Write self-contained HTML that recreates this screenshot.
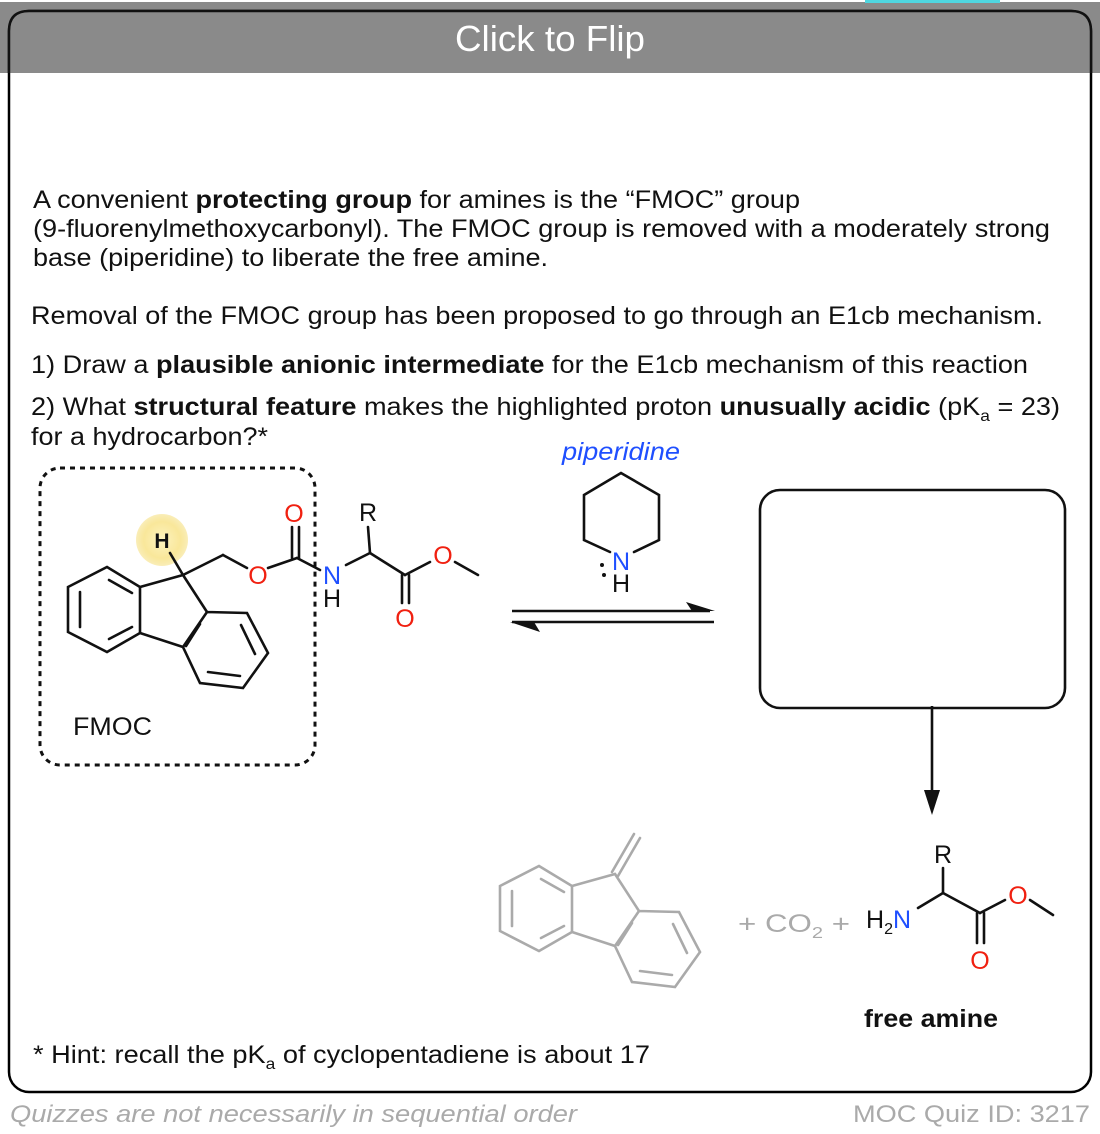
<!DOCTYPE html>
<html><head><meta charset="utf-8"><style>
html,body{margin:0;padding:0;background:#fff;}
svg{display:block;}
text{font-family:"Liberation Sans",Arial,sans-serif;}
</style></head><body>
<svg width="1100" height="1134" viewBox="0 0 1100 1134" xmlns="http://www.w3.org/2000/svg">
<defs>
<radialGradient id="hg"><stop offset="0" stop-color="#fdf3c0"/><stop offset="0.7" stop-color="#f9e79a"/><stop offset="1" stop-color="#f6e28a" stop-opacity="0.6"/></radialGradient>
</defs>
<rect x="0" y="0" width="1100" height="1134" fill="#fff"/>
<rect x="0" y="2" width="1100" height="71" fill="#8a8a8a"/>
<rect x="865" y="0" width="135" height="3" fill="#4fd6e0"/>
<rect x="9" y="11" width="1082" height="1081" rx="20" fill="none" stroke="#000" stroke-width="2.5"/>
<rect x="10" y="12" width="1080" height="61" fill="#8a8a8a"/>
<path d="M9 73 V31 Q9 11 29 11 H1071 Q1091 11 1091 31 V73" fill="none" stroke="#111" stroke-width="2.5"/>
<text x="455" y="51" font-size="36" fill="#fff" textLength="190" lengthAdjust="spacingAndGlyphs">Click to Flip</text>

<g font-size="25" fill="#111">
<text x="33" y="208" textLength="767" lengthAdjust="spacingAndGlyphs">A convenient <tspan font-weight="bold">protecting group</tspan> for amines is the “FMOC” group</text>
<text x="33" y="237" textLength="1017" lengthAdjust="spacingAndGlyphs">(9-fluorenylmethoxycarbonyl). The FMOC group is removed with a moderately strong</text>
<text x="33" y="266" textLength="515" lengthAdjust="spacingAndGlyphs">base (piperidine) to liberate the free amine.</text>
<text x="31" y="324" textLength="1012" lengthAdjust="spacingAndGlyphs">Removal of the FMOC group has been proposed to go through an E1cb mechanism.</text>
<text x="31" y="373" textLength="997" lengthAdjust="spacingAndGlyphs">1) Draw a <tspan font-weight="bold">plausible anionic intermediate</tspan> for the E1cb mechanism of this reaction</text>
<text x="31" y="415" textLength="1029" lengthAdjust="spacingAndGlyphs">2) What <tspan font-weight="bold">structural feature</tspan> makes the highlighted proton <tspan font-weight="bold">unusually acidic</tspan> (pK<tspan font-size="16" dy="6">a</tspan><tspan dy="-6"> = 23)</tspan></text>
<text x="31" y="445" textLength="237" lengthAdjust="spacingAndGlyphs">for a hydrocarbon?*</text>
<text x="33" y="1063" textLength="617" lengthAdjust="spacingAndGlyphs">* Hint: recall the pK<tspan font-size="16" dy="6">a</tspan><tspan dy="-6"> of cyclopentadiene is about 17</tspan></text>
</g>
<text x="562" y="460" font-size="25" font-style="italic" fill="#1f4fff" textLength="118" lengthAdjust="spacingAndGlyphs">piperidine</text>

<rect x="40" y="468" width="275" height="297" rx="20" fill="none" stroke="#111" stroke-width="3" stroke-dasharray="5,5"/>
<text x="73" y="735" font-size="25" fill="#111" textLength="79" lengthAdjust="spacingAndGlyphs">FMOC</text>

<circle cx="162" cy="540" r="26" fill="url(#hg)"/>
<g stroke="#111" stroke-width="2.6" fill="none" stroke-linecap="round">
<polyline points="140,587 140,633 107,652 68,632 68,587 107,567 140,587"/>
<line x1="80" y1="592" x2="80" y2="627"/>
<line x1="109" y1="580" x2="132" y2="593"/>
<line x1="109" y1="639" x2="132" y2="627"/>
<polyline points="207,612 183,647 200,683 243,688 268,653 247,613 207,612"/>
<line x1="200" y1="624" x2="186" y2="646"/>
<line x1="208" y1="672" x2="240" y2="676"/>
<line x1="255" y1="654" x2="241" y2="625"/>
<line x1="140" y1="587" x2="183" y2="575"/>
<line x1="183" y1="575" x2="207" y2="612"/>
<line x1="140" y1="633" x2="183" y2="647"/>
<line x1="183" y1="575" x2="170" y2="553"/>
<line x1="183" y1="575" x2="223" y2="555"/>
<line x1="223" y1="555" x2="247" y2="568"/>
<line x1="268" y1="568" x2="297" y2="558"/>
<line x1="297" y1="558" x2="320" y2="570"/>
<line x1="292" y1="558" x2="292" y2="527"/>
<line x1="299" y1="558" x2="299" y2="527"/>
<line x1="346" y1="565" x2="370" y2="553"/>
<line x1="370" y1="553" x2="368" y2="527"/>
<line x1="370" y1="553" x2="405" y2="575"/>
<line x1="402" y1="575" x2="402" y2="603"/>
<line x1="409" y1="575" x2="409" y2="603"/>
<line x1="405" y1="575" x2="430" y2="562"/>
<line x1="455" y1="562" x2="478" y2="575"/>
</g>
<g font-size="25" text-anchor="middle">
<text x="162" y="548" font-weight="bold" font-size="21" fill="#111">H</text>
<text x="258" y="584" fill="#f02010">O</text>
<text x="294" y="522" fill="#f02010">O</text>
<text x="332" y="584" fill="#1f4fff">N</text>
<text x="332" y="607" fill="#111">H</text>
<text x="368" y="521" fill="#111">R</text>
<text x="405" y="627" fill="#f02010">O</text>
<text x="443" y="564" fill="#f02010">O</text>
</g>

<g stroke="#111" stroke-width="2.6" fill="none" stroke-linecap="round">
<polyline points="610,552 584,540 584,495 621,473 659,495 659,540 634,552"/>
</g>
<text x="621" y="570" font-size="25" fill="#1f4fff" text-anchor="middle">N</text>
<text x="621" y="592" font-size="25" fill="#111" text-anchor="middle">H</text>
<circle cx="602" cy="565" r="2" fill="#111"/>
<circle cx="604" cy="575" r="2" fill="#111"/>

<g stroke="#111" stroke-width="2.6" fill="#111">
<line x1="512" y1="611" x2="710" y2="611"/>
<line x1="512" y1="622" x2="714" y2="622"/>
</g>
<polygon points="715,611 686,602 692,611" fill="#111"/>
<polygon points="510,622 540,632 534,622" fill="#111"/>

<rect x="760" y="490" width="305" height="218" rx="20" fill="none" stroke="#111" stroke-width="2.6"/>

<line x1="932" y1="706" x2="932" y2="795" stroke="#111" stroke-width="2.6"/>
<polygon points="924,790 940,790 932,815" fill="#111"/>

<g stroke="#aaa" stroke-width="2.6" fill="none" stroke-linecap="round" transform="translate(432,299)">
<polyline points="140,587 140,633 107,652 68,632 68,587 107,567 140,587"/>
<line x1="80" y1="592" x2="80" y2="627"/>
<line x1="109" y1="580" x2="132" y2="593"/>
<line x1="109" y1="639" x2="132" y2="627"/>
<polyline points="207,612 183,647 200,683 243,688 268,653 247,613 207,612"/>
<line x1="200" y1="624" x2="186" y2="646"/>
<line x1="208" y1="672" x2="240" y2="676"/>
<line x1="255" y1="654" x2="241" y2="625"/>
<line x1="140" y1="587" x2="183" y2="575"/>
<line x1="183" y1="575" x2="207" y2="612"/>
<line x1="140" y1="633" x2="183" y2="647"/>
<line x1="180" y1="573" x2="202" y2="535"/>
<line x1="186" y1="577" x2="208" y2="539"/>
</g>
<text x="738" y="932" font-size="25" fill="#aaa" textLength="112" lengthAdjust="spacingAndGlyphs">+ CO<tspan font-size="16" dy="6">2</tspan><tspan dy="-6">  +</tspan></text>

<text x="866" y="928" font-size="25" fill="#111">H<tspan font-size="16" dy="6">2</tspan><tspan dy="-6" fill="#1f4fff">N</tspan></text>
<g stroke="#111" stroke-width="2.6" fill="none" stroke-linecap="round">
<line x1="918" y1="908" x2="943" y2="893"/>
<line x1="943" y1="893" x2="943" y2="868"/>
<line x1="943" y1="893" x2="980" y2="913"/>
<line x1="977" y1="913" x2="977" y2="943"/>
<line x1="984" y1="913" x2="984" y2="943"/>
<line x1="980" y1="913" x2="1005" y2="900"/>
<line x1="1030" y1="900" x2="1053" y2="915"/>
</g>
<text x="943" y="863" font-size="25" fill="#111" text-anchor="middle">R</text>
<text x="980" y="969" font-size="25" fill="#f02010" text-anchor="middle">O</text>
<text x="1018" y="904" font-size="25" fill="#f02010" text-anchor="middle">O</text>
<text x="864" y="1027" font-size="25" font-weight="bold" fill="#111" textLength="134" lengthAdjust="spacingAndGlyphs">free amine</text>

<text x="10" y="1122" font-size="24" font-style="italic" fill="#aaa" textLength="567" lengthAdjust="spacingAndGlyphs">Quizzes are not necessarily in sequential order</text>
<text x="853" y="1122" font-size="24" fill="#aaa" textLength="237" lengthAdjust="spacingAndGlyphs">MOC Quiz ID: 3217</text>
</svg>
</body></html>
